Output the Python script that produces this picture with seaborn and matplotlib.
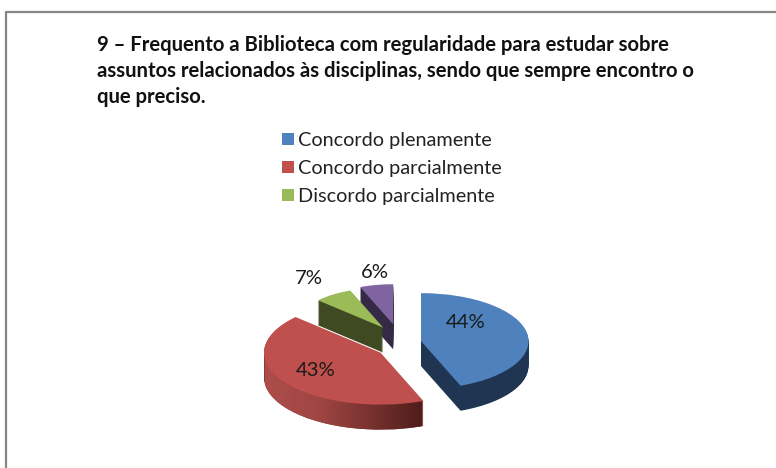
import numpy as np
import seaborn as sns
from matplotlib import pyplot as plt
from matplotlib.lines import Line2D
from matplotlib.patches import Patch
from matplotlib.path import Path

title_lines = ['9 – Frequento a Biblioteca com regularidade para estudar sobre',
               'assuntos relacionados às disciplinas, sendo que sempre encontro o',
               'que preciso.']
categories = ['Concordo plenamente', 'Concordo parcialmente', 'Discordo parcialmente', 'Não concordo']
values = [44, 43, 7, 6]
legend_shown = 3

top_colors = ['#4f81bd', '#c0504d', '#9bbb59', '#8064a2']
wall_colors = ['#1f3552', '#8a3a38', '#404a22', '#352a45']
explode = [0.2, 0.2, 0.25, 0.28]
radius_scale = [0.96, 1.04, 0.8, 0.8]
nudge_px = [5, 9, 0, 0]  # front slices sit lower in the perspective view
order_z = [40, 30, 20, 10]
label_px = [(466, 322), (316, 371), (309, 279), (375, 272)]

W, H = 776, 468
cx, cy = 399, 338  # pie centre in pixels
a, b = 112, 50  # px per unit, squashed pie
depth_px = 25


def fix_wedges(wedges, z_add):
    for i, w in enumerate(wedges):
        w.set_radius(radius_scale[i])
        w.set_center((w.center[0], w.center[1] - nudge_px[i] / b))
        w.set_zorder(order_z[i] + z_add)


sns.set_theme(style='white')
plt.rcParams['font.family'] = ['Lato', 'DejaVu Sans']

fig = plt.figure(figsize=(W / 100, H / 100), dpi=100, facecolor='white')
ax = fig.add_axes([(cx - 2 * a) / W, 1 - (cy + 2 * b) / H, 4 * a / W, 4 * b / H])

red_paths = []
for k in range(depth_px, 0, -1):
    wedges, _ = ax.pie(values, colors=wall_colors, explode=explode, startangle=90, counterclock=False,
                       center=(0, -k / b), normalize=True, wedgeprops={'linewidth': 0})
    fix_wedges(wedges, (depth_px - k) * 0.01)
    red_paths.append(wedges[1].get_path().transformed(wedges[1].get_patch_transform()))

top, _, pcts = ax.pie(values, colors=top_colors, explode=explode, startangle=90, counterclock=False,
                      autopct='%.0f%%', normalize=True, wedgeprops={'linewidth': 0})
fix_wedges(top, 1)
for t, (px, py) in zip(pcts, label_px):
    t.set_position(((px - cx) / a, (cy - py) / b))
    t.set(fontsize=14.6, color='#1a1a1a', zorder=60, ha='center', va='center')

# gradient on the red side wall
grad = sns.blend_palette(['#ad4d4a', '#a04643', '#7a3230', '#4f1d1b'], as_cmap=True)
img = ax.imshow(np.linspace(0, 1, 200).reshape(1, -1), cmap=grad, aspect='auto',
                extent=(-1.2, 0.2, -2, 0.5), zorder=order_z[1] + 0.5)
img.set_clip_path(Path.make_compound_path(*red_paths), transform=ax.transData)
ax.set_aspect('auto')
ax.set_xlim(-2, 2)
ax.set_ylim(-2, 2)
ax.axis('off')

for line, y in zip(title_lines, [45, 71, 97]):
    fig.text(97 / W, 1 - y / H, line, fontsize=14.6, fontweight='bold', color='#111111', va='center')

handles = [Patch(color=c, linewidth=0) for c in top_colors[:legend_shown]]
fig.legend(handles, categories[:legend_shown], loc='upper left', bbox_to_anchor=(282 / W, 1 - 132 / H),
           frameon=False, fontsize=14.35, handlelength=0.6, handleheight=0.6, handletextpad=0.2,
           labelspacing=0.55, labelcolor='#222222', borderpad=0, borderaxespad=0)

# grey frame round the picture
fig.add_artist(Line2D([5.5 / W, 5.5 / W, 1], [0, 1 - 12 / H, 1 - 12 / H], color='#868686', lw=1.6))

fig.savefig('out.png', dpi=100)
